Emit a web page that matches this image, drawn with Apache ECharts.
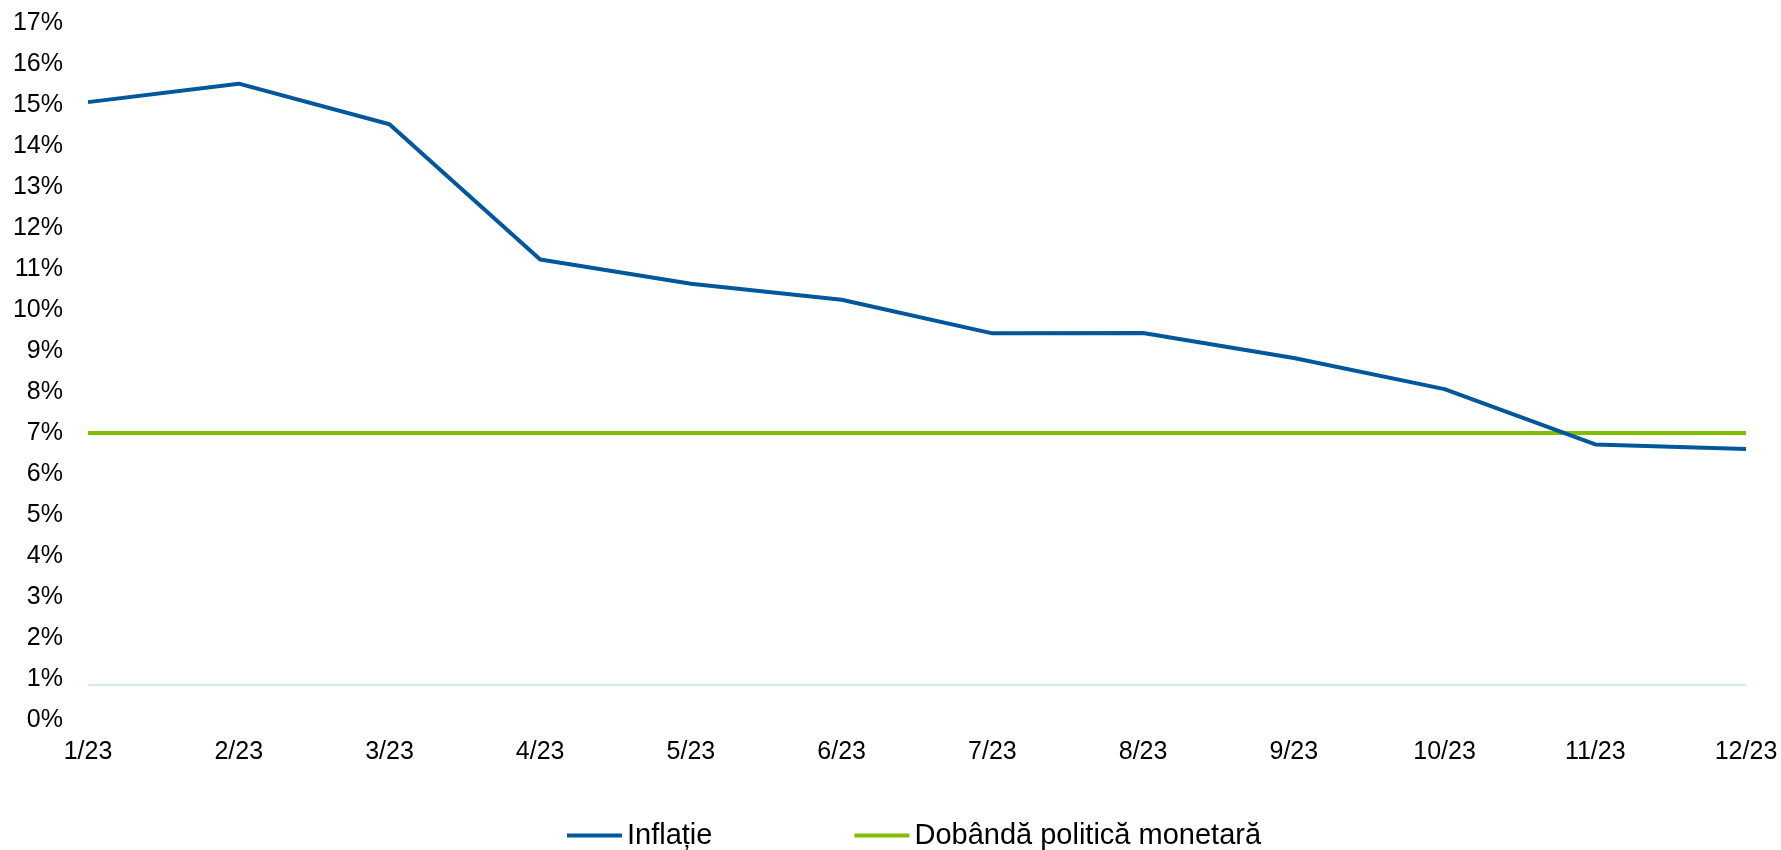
<!DOCTYPE html>
<html>
<head>
<meta charset="utf-8">
<script src="https://cdn.jsdelivr.net/npm/echarts@6/dist/echarts.min.js"></script>
<style>
html,body{margin:0;padding:0;background:#fff;}
#chart{width:1781px;height:850px;}
</style>
</head>
<body>
<div id="chart"></div>
<script>
const categories = ['1/23','2/23','3/23','4/23','5/23','6/23','7/23','8/23','9/23','10/23','11/23','12/23'];
const inflation = [15.07, 15.52, 14.53, 11.23, 10.64, 10.25, 9.43, 9.44, 8.83, 8.07, 6.72, 6.61];
const policyRate = [7.00, 7.00, 7.00, 7.00, 7.00, 7.00, 7.00, 7.00, 7.00, 7.00, 7.00, 7.00];
const seriesNames = ['Inflație', 'Dobândă politică monetară'];
const baseLineValue = 0.85;

const chart = echarts.init(document.getElementById('chart'));
const font = 'Arial, "Liberation Sans", sans-serif';
chart.setOption({
  animation: false,
  backgroundColor: '#ffffff',
  grid: { left: 88, right: 35, top: 23, bottom: 130, containLabel: false, outerBoundsMode: 'none' },
  legend: {
    left: 562, top: 816,
    itemWidth: 55, itemHeight: 4, itemGap: 142,
    icon: 'rect',
    textStyle: { fontFamily: font, fontSize: 29, color: '#000' },
    data: seriesNames
  },
  xAxis: {
    type: 'category',
    data: categories,
    boundaryGap: false,
    axisLine: { show: false },
    axisTick: { show: false },
    axisLabel: { fontFamily: font, fontSize: 25, color: '#000', margin: 20, interval: 0 },
    splitLine: { show: false }
  },
  yAxis: {
    type: 'value',
    min: 0, max: 17, interval: 1,
    axisLine: { show: false },
    axisTick: { show: false },
    splitLine: { show: false },
    axisLabel: { fontFamily: font, fontSize: 25, color: '#000', margin: 25, formatter: '{value}%' }
  },
  series: [
    {
      name: seriesNames[0],
      type: 'line',
      data: inflation,
      symbol: 'none',
      z: 3,
      lineStyle: { color: '#00579c', width: 4 },
      itemStyle: { color: '#00579c' },
      markLine: {
        silent: true,
        symbol: 'none',
        label: { show: false },
        lineStyle: { color: '#cfeaf6', width: 2, type: 'solid' },
        data: [{ yAxis: baseLineValue }]
      }
    },
    {
      name: seriesNames[1],
      type: 'line',
      data: policyRate,
      symbol: 'none',
      z: 2,
      lineStyle: { color: '#7fbf00', width: 4 },
      itemStyle: { color: '#7fbf00' }
    }
  ]
});
</script>
</body>
</html>
